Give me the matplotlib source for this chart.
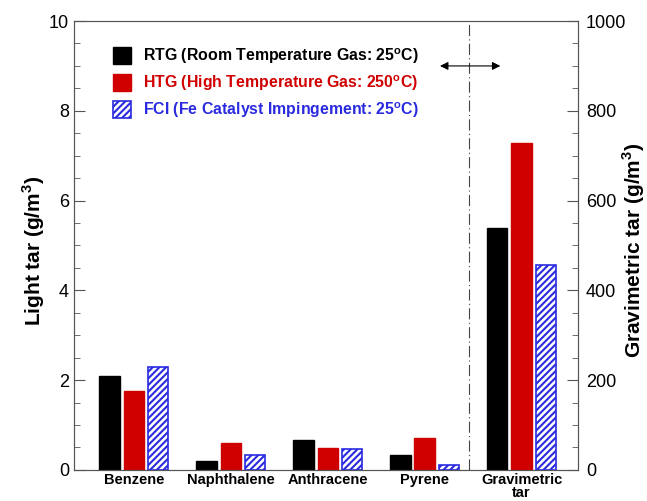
import matplotlib.pyplot as plt
from matplotlib.patches import Patch
import numpy as np

plt.rcParams['font.family'] = ['Liberation Sans', 'DejaVu Sans']
plt.rcParams['hatch.color'] = '#2a2ae0'
plt.rcParams['hatch.linewidth'] = 1.5

categories = ['Benzene', 'Naphthalene', 'Anthracene', 'Pyrene', 'Gravimetric\ntar']
# light tar (g/m3), first four groups
rtg_light = [2.09, 0.20, 0.67, 0.33]
htg_light = [1.76, 0.60, 0.49, 0.71]
fci_light = [2.29, 0.33, 0.47, 0.11]
# gravimetric tar (g/m3)
rtg_grav = 539
htg_grav = 728
fci_grav = 456

labels = ['RTG (Room Temperature Gas: 25$^{\\mathregular{o}}$C)',
          'HTG (High Temperature Gas: 250$^{\\mathregular{o}}$C)',
          'FCI (Fe Catalyst Impingement: 25$^{\\mathregular{o}}$C)']

black = '#000000'
red = '#d10000'
blue = '#2a2ae0'

fig = plt.figure(figsize=(6.47, 5.01), dpi=100)
ax = fig.add_axes([0.114, 0.062, 0.779, 0.896])
ax2 = ax.twinx()

x = np.arange(len(categories))
w = 0.21
off = 0.25
xl = x[:4]
ax.bar(xl - off, rtg_light, w, color=black, edgecolor=black)
ax.bar(xl, htg_light, w, color=red, edgecolor=red)
ax.bar(xl + off, fci_light, w, color='white', edgecolor=blue, hatch='/////', linewidth=1.2)

ax2.bar(x[4] - off, rtg_grav, w, color=black, edgecolor=black)
ax2.bar(x[4], htg_grav, w, color=red, edgecolor=red)
ax2.bar(x[4] + off, fci_grav, w, color='white', edgecolor=blue, hatch='/////', linewidth=1.2)

ax.set_xlim(-0.62, 4.58)
ax.set_ylim(0, 10)
ax2.set_ylim(0, 1000)

# separator and arrow
ax.axvline(3.46, color='#444444', linestyle=(0, (10, 3, 1, 3)), linewidth=0.8)
ax.annotate('', xy=(3.13, 9.0), xytext=(3.81, 9.0),
            arrowprops=dict(arrowstyle='<|-|>', color='black', lw=0.8,
                            mutation_scale=12))

ax.set_xticks(x)
ax.set_xticklabels(categories, fontsize=10.5, fontweight='bold', linespacing=0.85)
ax.tick_params(axis='x', length=0, pad=2.5)

ax.set_yticks(np.arange(0, 11, 2))
ax.set_yticks(np.arange(0, 10.1, 0.5), minor=True)
ax2.set_yticks(np.arange(0, 1001, 200))
ax2.set_yticks(np.arange(0, 1001, 50), minor=True)
for a in (ax, ax2):
    a.tick_params(axis='y', which='major', direction='in', length=8, labelsize=13, color='#555555')
    a.tick_params(axis='y', which='minor', direction='in', length=4, color='#555555')
    for s in a.spines.values():
        s.set_color('#555555')
        s.set_linewidth(0.8)
ax2.tick_params(axis='y', which='major', pad=6)

fig.text(34 / 647, 0.5, 'Light tar (g/m$^{\\mathregular{3}}$)', rotation=90,
         ha='center', va='center', fontsize=15, fontweight='bold')
fig.text(634 / 647, 0.5, 'Gravimetric tar (g/m$^{\\mathregular{3}}$)', rotation=90,
         ha='center', va='center', fontsize=15, fontweight='bold')

handles = [Patch(facecolor=black, edgecolor=black),
           Patch(facecolor=red, edgecolor=red),
           Patch(facecolor='white', edgecolor=blue, hatch='/////', linewidth=1.2)]
leg = ax.legend(handles, labels, loc='upper left', bbox_to_anchor=(0.05, 0.975),
                frameon=False, prop={'weight': 'bold', 'size': 11.4},
                handlelength=1.1, handleheight=1.3, handletextpad=0.8, labelspacing=0.45)
for t, c in zip(leg.get_texts(), [black, red, blue]):
    t.set_color(c)

fig.savefig('out.png', dpi=100)
